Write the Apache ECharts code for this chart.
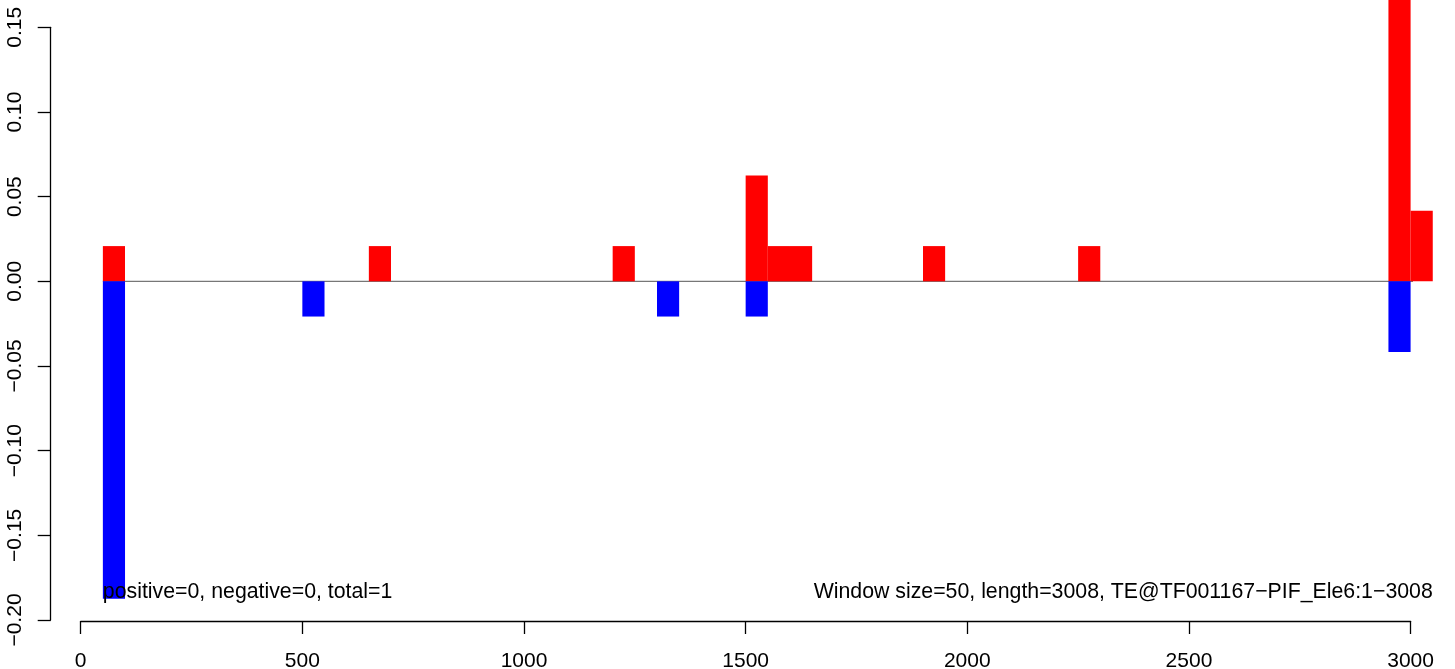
<!DOCTYPE html>
<html>
<head>
<meta charset="utf-8">
<script src="https://cdn.jsdelivr.net/npm/echarts@6/dist/echarts.min.js"></script>
<style>
  html, body { margin: 0; padding: 0; background: #ffffff; }
  #chart { width: 1455px; height: 669px; }
</style>
</head>
<body>
<div id="chart"></div>
<script>
// ---- data ----
const windowSize = 50;
const posStarts = [50, 650, 1200, 1500, 1550, 1600, 1900, 2250, 2950, 3000];
const posValues = [0.0208, 0.0208, 0.0208, 0.0625, 0.0208, 0.0208, 0.0208, 0.0208, 0.1667, 0.0417];
const negStarts = [50, 500, 1300, 1500, 2950];
const negValues = [-0.1875, -0.0208, -0.0208, -0.0208, -0.0417];
const baseline = [[50, 0], [3050, 0]];
const xTicks = { min: 0, max: 3000, interval: 500 };
const yTicks = { min: -0.2, max: 0.15, interval: 0.05 };
const leftNote = 'positive=0, negative=0, total=1';
const rightNote = 'Window size=50, length=3008, TE@TF001167\u2212PIF_Ele6:1\u22123008';
const notePosLeft = [50, -0.1875];
const notePosRight = [3050, -0.1875];

const FONT = '"Liberation Sans", Arial, Helvetica, sans-serif';
const FS = 21;
const NOTE_FS = 21.3;

function barRender(color) {
  return function (params, api) {
    const x0 = api.value(0);
    const v = api.value(1);
    const p0 = api.coord([x0, 0]);
    const p1 = api.coord([x0 + windowSize, v]);
    return {
      type: 'rect',
      shape: {
        x: p0[0],
        y: Math.min(p0[1], p1[1]),
        width: p1[0] - p0[0],
        height: Math.abs(p1[1] - p0[1])
      },
      style: { fill: color }
    };
  };
}

function textRender(align) {
  return function (params, api) {
    const p = api.coord([api.value(0), api.value(1)]);
    return {
      type: 'text',
      x: p[0],
      y: p[1] + 4,
      style: {
        text: align === 'left' ? leftNote : rightNote,
        align: align,
        verticalAlign: 'bottom',
        fill: '#000',
        font: NOTE_FS + 'px ' + FONT
      }
    };
  };
}

const chart = echarts.init(document.getElementById('chart'), null, { renderer: 'canvas' });
chart.setOption({
  backgroundColor: '#ffffff',
  animation: false,
  grid: {
    left: 80.7, width: 1329.9, top: 27.3, height: 592.7,
    containLabel: false, outerBoundsMode: 'none'
  },
  xAxis: {
    type: 'value',
    min: xTicks.min, max: xTicks.max, interval: xTicks.interval,
    offset: 1,
    splitLine: { show: false },
    axisLine: { show: true, onZero: false, lineStyle: { color: '#000', width: 1.3 } },
    axisTick: { show: true, length: 13, lineStyle: { color: '#000', width: 1.3 } },
    axisLabel: {
      color: '#000', fontSize: FS, fontFamily: FONT, margin: 30,
      formatter: v => String(v)
    }
  },
  yAxis: {
    type: 'value',
    min: yTicks.min, max: yTicks.max, interval: yTicks.interval,
    offset: 30,
    splitLine: { show: false },
    axisLine: { show: true, onZero: false, lineStyle: { color: '#000', width: 1.3 } },
    axisTick: { show: true, length: 13, lineStyle: { color: '#000', width: 1.3 } },
    axisLabel: {
      color: '#000', fontSize: FS, fontFamily: FONT, rotate: 90, margin: 25,
      formatter: v => v.toFixed(2).replace('-', '\u2212')
    }
  },
  series: [
    {
      type: 'line', data: baseline, symbol: 'none', z: 1,
      lineStyle: { color: '#777777', width: 1.2 }, clip: false
    },
    {
      type: 'custom', z: 2, clip: false,
      data: posStarts.map((s, i) => [s, posValues[i]]),
      renderItem: barRender('#ff0000')
    },
    {
      type: 'custom', z: 2, clip: false,
      data: negStarts.map((s, i) => [s, negValues[i]]),
      renderItem: barRender('#0000ff')
    },
    {
      type: 'custom', z: 3, clip: false,
      data: [notePosLeft],
      renderItem: textRender('left')
    },
    {
      type: 'custom', z: 3, clip: false,
      data: [notePosRight],
      renderItem: textRender('right')
    }
  ]
});
</script>
</body>
</html>
